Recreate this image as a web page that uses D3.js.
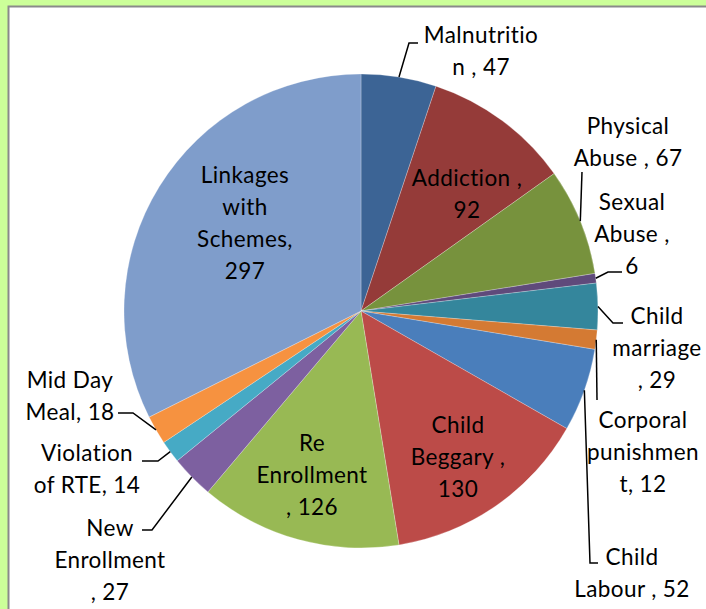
<!DOCTYPE html>
<html>
<head>
<meta charset="utf-8">
<script src="https://cdn.jsdelivr.net/npm/d3@7"></script>
<style>
  html, body { margin: 0; padding: 0; background: #ccff99; }
  svg { display: block; }
  text { font-family: Lato, "Open Sans", sans-serif; font-size: 22.5px; letter-spacing: 0.4px; fill: #000; }
</style>
</head>
<body>
<svg id="chart" width="706" height="609"></svg>
<script>
// categories clockwise from 12 o'clock
var categories = ['Malnutrition', 'Addiction', 'Physical Abuse', 'Sexual Abuse', 'Child marriage',
	'Corporal punishment', 'Child Labour', 'Child Beggary', 'Re Enrollment', 'New Enrollment',
	'Violation of RTE', 'Mid Day Meal', 'Linkages with Schemes'];
var values = [47, 92, 67, 6, 29, 12, 52, 130, 126, 27, 14, 18, 297];
var colors = ['#3c6495', '#953b39', '#77923d', '#5f4a7b', '#34869c', '#d47a33', '#4a7ebb',
	'#bc4b48', '#98b954', '#7d60a0', '#46aac5', '#f69240', '#7f9dcb'];

// how Excel wrapped each label ({v} = value), where it sits and its leader elbow
var labelLayout = [
	{lines: ['Malnutritio', 'n , {v}'], x: 481, y: 35, leader: [[409, 43], [418, 43]]},
	{lines: ['Addiction ,', '{v}'], x: 467, y: 178},
	{lines: ['Physical', 'Abuse , {v}'], x: 628, y: 126, leader: [[582, 172]]},
	{lines: ['Sexual', 'Abuse ,', '{v}'], x: 632, y: 202, leader: [[608, 272], [622, 272]]},
	{lines: ['Child', 'marriage', ', {v}'], x: 657, y: 316, leader: [[613, 323], [623, 323]]},
	{lines: ['Corporal', 'punishmen', 't, {v}'], x: 643, y: 420, leader: [[597, 400]]},
	{lines: ['Child', 'Labour , {v}'], x: 632, y: 557, leader: [[590, 563], [598, 563]]},
	{lines: ['Child', 'Beggary ,', '{v}'], x: 458, y: 425},
	{lines: ['Re', 'Enrollment', ', {v}'], x: 312, y: 443},
	{lines: ['New', 'Enrollment', ', {v}'], x: 110, y: 528, leader: [[152, 530], [142, 530]]},
	{lines: ['Violation', 'of RTE,  {v}'], x: 87, y: 453, leader: [[158, 461], [142, 461]]},
	{lines: ['Mid Day', 'Meal, {v}'], x: 70, y: 380, leader: [[133, 413], [118, 413]]},
	{lines: ['Linkages', 'with', 'Schemes,', '{v}'], x: 245, y: 175}
];

var svg = d3.select('#chart');
var cx = 361, cy = 311, radius = 237, lineH = 32;

// white plot panel with grey edge
svg.append('rect')
	.attr('x', 8.5).attr('y', 6.5)
	.attr('width', 720).attr('height', 620)
	.style('fill', '#fff')
	.style('stroke', '#8a8a8a')
	.style('stroke-width', 2);

var data = categories.map((c, i) => ({name: c, value: values[i], color: colors[i], layout: labelLayout[i]}));

var pie = d3.pie().sort(null).value(d => d.value);
var arc = d3.arc().innerRadius(0).outerRadius(radius);
var arcs = pie(data);

var g = svg.append('g').attr('transform', `translate(${cx},${cy})`);

g.selectAll('path.slice')
	.data(arcs)
	.enter()
	.append('path')
	.classed('slice', true)
	.attr('d', arc)
	.style('fill', d => d.data.color)
	.style('stroke', 'rgba(255,255,255,0.35)')
	.style('stroke-width', 0.7);

// leader lines start on the rim at each slice's middle angle
var line = d3.line();
arcs.forEach(a => {
	var lay = a.data.layout;
	if (!lay.leader) return;
	var mid = (a.startAngle + a.endAngle) / 2;
	var start = [cx + radius * Math.sin(mid), cy - radius * Math.cos(mid)];
	svg.append('path')
		.attr('d', line([start].concat(lay.leader)))
		.style('fill', 'none')
		.style('stroke', '#000')
		.style('stroke-width', 1.5);
});

// labels
arcs.forEach(a => {
	var lay = a.data.layout;
	var t = svg.append('text')
		.attr('text-anchor', 'middle');
	lay.lines.forEach((s, i) => {
		t.append('tspan')
			.attr('x', lay.x)
			.attr('y', lay.y + i * lineH)
			.attr('dy', '0.35em')
			.text(s.replace('{v}', a.data.value));
	});
});
</script>
</body>
</html>
